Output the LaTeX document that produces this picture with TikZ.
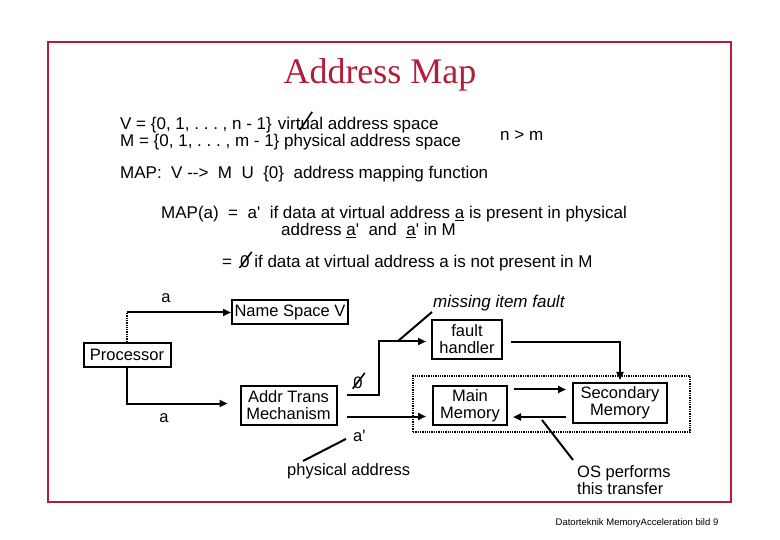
\documentclass[tikz,border=0pt]{standalone}
\usepackage{fontspec}
\setmainfont{Liberation Sans}
\newfontfamily\titlefont{Liberation Serif}
\usetikzlibrary{arrows.meta}
\definecolor{slidered}{RGB}{178,30,56}
\frenchspacing
% a letter with a stroke through it
\newcommand{\struck}[2][4pt]{\tikz[baseline=(z.base)]{\node[inner sep=0pt] (z) {#2}; \draw[overlay, line width=1.6pt] ([xshift=-0.5pt]z.base west) -- ([xshift=2pt,yshift=#1]z.north east);}}
\newcommand{\ap}{\textquotesingle}

\begin{document}
\begin{tikzpicture}[x=1pt, y=-1pt, >={Triangle[length=8pt,width=7pt]},
    txt/.style={anchor=base west, inner sep=0pt, font=\fontsize{17}{18}\selectfont},
    lbl/.style={inner sep=0pt, align=left, font=\fontsize{16.5}{17}\selectfont},
    box/.style={draw, line width=2pt, inner sep=2pt, align=center, font=\fontsize{16.5}{17}\selectfont},
    wire/.style={line width=2pt}]

    \useasboundingbox (0,0) rectangle (780,540);

    % Frame and title
    \draw[slidered, line width=2pt] (48,42) rectangle (731,502);
    \node[text=slidered, font=\titlefont\fontsize{36}{40}\selectfont] (title) at (380,75) {Address Map};

    % Definitions
    \node[txt] (vdef) at (120,130) {V = \{0, 1, . . . , n - 1\}\hspace{6pt}virt\struck[9pt]{u}al address space};
    \node[txt] (mdef) at (120,147) {M = \{0, 1, . . . , m - 1\} physical address space};
    \node[txt] (nm) at (500,141) {n > m};
    \node[txt] (mapdef) at (120,179) {MAP:\ \ V -{}->\ \ M\ \ U\ \ \{0\}\ \ address mapping function};
    \node[txt] (mapa) at (161,219) {MAP(a)\ \ =\ \ a\ap\ \ if data at virtual address \underline{a} is present in physical};
    \node[txt] (mapb) at (281,236) {address \underline{a}\ap\ \ and\ \ \underline{a}\ap\ in M};
    \node[txt] (mapc) at (222,268) {=\hspace{8pt}\struck{0} if data at virtual address a is not present in M};

    % Boxes
    \node[box, minimum width=116, minimum height=24] (namespace) at (290,312.5) {Name Space V};
    \node[box, minimum width=87, minimum height=24] (processor) at (127,355) {Processor};
    \node[box, minimum width=96, minimum height=39] (addrtrans) at (288.5,405.5) {Addr Trans\\Mechanism};
    \node[box, minimum width=70, minimum height=39] (fault) at (467,339.5) {fault\\handler};
    \node[box, minimum width=74, minimum height=39] (mainmem) at (470,405.5) {Main\\Memory};
    \node[box, minimum width=94, minimum height=40] (secmem) at (620,403) {Secondary\\Memory};
    \node[draw, densely dotted, line width=1.3pt, minimum width=277, minimum height=56] (memsys) at (551.5,404) {};

    % Labels
    \node[lbl] (va) at (166,298) {a};
    \node[lbl] (pa) at (164,418) {a};
    \node[lbl] (nulla) at (358,383) {\struck{0}};
    \node[lbl, anchor=north west] (aprime) at (353,430) {a\ap};
    \node[lbl, anchor=north west] (physaddr) at (287,463) {physical address};
    \node[lbl, anchor=south west, inner sep=1pt, font=\itshape\fontsize{17}{18}\selectfont] (missing) at (432,312) {missing item fault};
    \node[lbl, anchor=north west] (os) at (577,465) {OS performs\\this transfer};
    \node[font=\fontsize{9.5}{11}\selectfont] (footer) at (637,523) {Datorteknik MemoryAcceleration bild 9};

    % Connectors
    \draw[densely dotted, line width=1.3pt] (processor.north) -- (processor.north |- namespace.west) coordinate (upcorner);
    \draw[->, wire] (upcorner) -- (namespace.west);
    \draw[->, wire] (processor.south) |- ([xshift=-12pt,yshift=2pt]addrtrans.west);
    \draw[->, wire] ([xshift=9pt,yshift=11pt]addrtrans.east) -- ++(32,0) |- coordinate[pos=0.7] (mif) ([xshift=-5pt,yshift=-2pt]fault.west);
    \draw[wire] (mif) -- (missing.south west);
    \draw[->, wire] ([xshift=9pt,yshift=-11pt]addrtrans.east) -- ([xshift=-6pt,yshift=-11pt]mainmem.west);
    \draw[->, wire] ([xshift=8pt,yshift=-2.5pt]fault.east) -| ([yshift=2pt]secmem.north);
    \draw[->, wire, shorten >=6pt] ([xshift=6pt,yshift=16pt]mainmem.east) coordinate (mm) -- (secmem.west |- mm);
    \draw[->, wire, shorten >=5pt] ([xshift=-6pt,yshift=-14pt]secmem.west) coordinate (sm) -- (mainmem.east |- sm);
    \draw[wire] ([xshift=-30pt,yshift=-17pt]secmem.west) -- ([xshift=-4pt,yshift=5pt]os.north west);
    \draw[wire] ([xshift=16pt,yshift=2pt]physaddr.north west) -- ([xshift=-7pt,yshift=3pt]aprime.south west);

\end{tikzpicture}
\end{document}
